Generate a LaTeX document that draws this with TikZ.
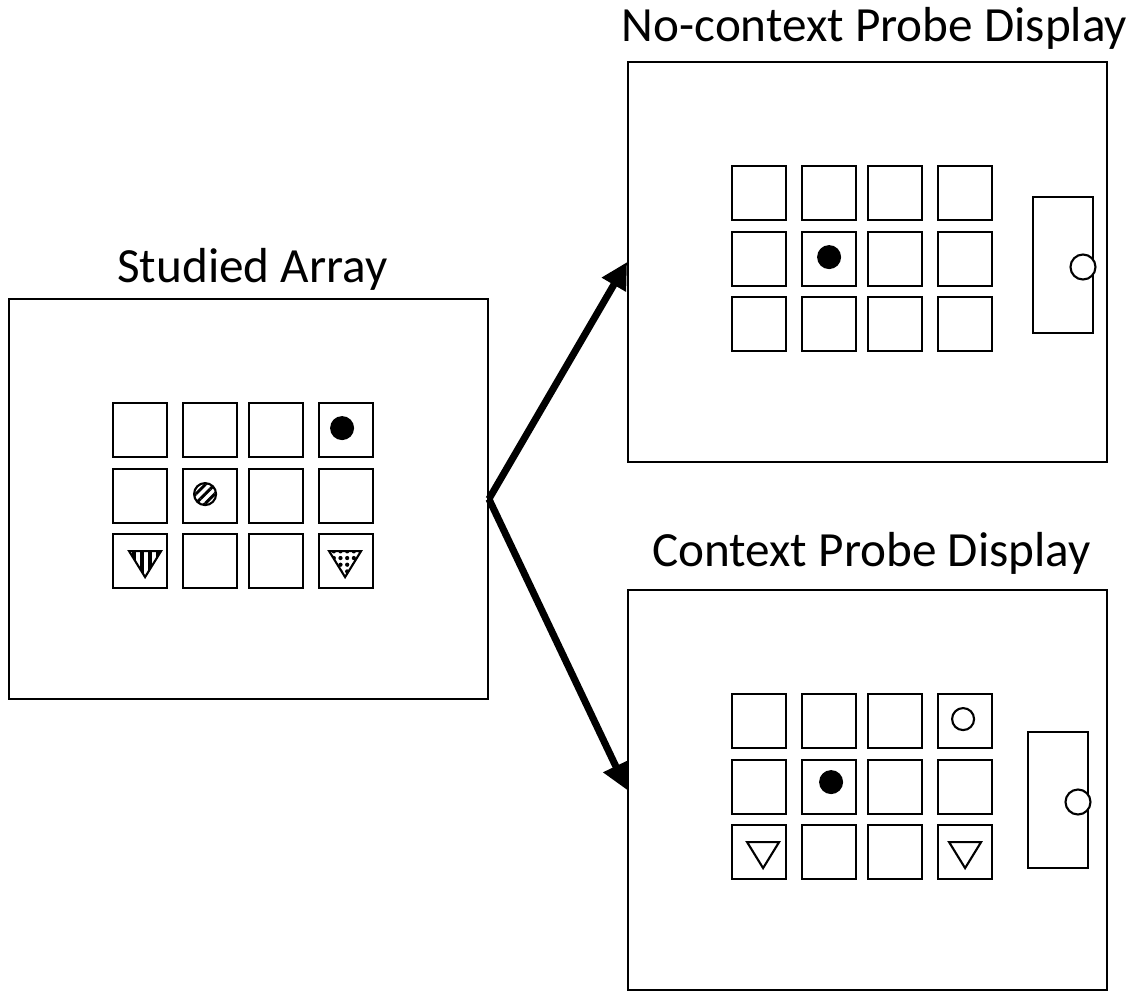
\documentclass[tikz,border=0pt]{standalone}
\usepackage{fontspec}
\setmainfont{Carlito}
\usetikzlibrary{arrows.meta, positioning, calc, patterns.meta}

\tikzset{
  frame/.style={draw, line width=1.1pt, minimum width=9.58cm, minimum height=8cm, inner sep=0pt},
  cell/.style={draw, line width=1.4pt, minimum size=1.08cm, inner sep=0pt},
  answerbox/.style={draw, line width=1.4pt, minimum width=1.2cm, minimum height=2.72cm, inner sep=0pt},
  title/.style={anchor=base, font=\fontsize{28}{32}\selectfont},
  arrow/.style={line width=4pt, -{Triangle[length=15pt,width=15pt]}},
  item/.style={line width=1.2pt}
}

% 4 x 3 grid of cells, relative to the upper left corner of a frame
\newcommand{\cellgrid}[2]{%
  \begin{scope}[shift={(#1.north west)}]
    \foreach \xc [count=\col] in {132,202,268,338}
      \foreach \yc [count=\row] in {132,198,263}
        \node[cell] (#2\row\col) at (\xc,\yc) {};
  \end{scope}}
% inverted triangle in a cell
\newcommand{\downtri}[3]{%
  \draw[item,#3,shift={($(#1)+(#2,0)$)}] (-16,-10) -- (16,-10) -- (0,16) -- cycle;}

\begin{document}
\begin{tikzpicture}[x=0.02cm, y=-0.02cm]
\useasboundingbox (0,0) rectangle (1136,992);

\node[frame] (studied) at (248.5,499) {};
\node[frame] (noctx) at (867.5,262) {};
\node[frame] (ctx) at (867.5,790) {};

\node[title] (studiedlbl) at ($(studied.north)+(4,-16)$) {Studied Array};
\node[title] (noctxlbl) at ($(noctx.north)+(7,-20)$) {No-context Probe Display};
\node[title] (ctxlbl) at ($(ctx.north)+(4,-23)$) {Context Probe Display};

\cellgrid{studied}{s}
\cellgrid{noctx}{n}
\cellgrid{ctx}{c}

% studied array items
\fill ($(s14)+(-4,-2)$) circle[radius=12];
\draw[item, pattern={Lines[angle=45,distance=3.8pt,line width=1.7pt]}] ($(s22)+(-5,-2)$) circle[radius=11];
\downtri{s31}{5}{pattern={Lines[angle=90,distance=4.5pt,line width=2.2pt]}}
\downtri{s34}{-1}{pattern={Dots[distance=3.8pt,radius=1.2pt]}}

% no-context probe
\fill ($(n22)+(0,-2)$) circle[radius=12];
\node[answerbox] (noctxbox) at (1063,265) {};
\draw[item, fill=white] ($(noctxbox)+(20,2)$) circle[radius=12.5];

% context probe
\draw[item] ($(c14)+(-2,-2)$) circle[radius=11];
\fill ($(c22)+(2,-5)$) circle[radius=12];
\downtri{c31}{4}{}
\downtri{c34}{0}{}
\node[answerbox] (ctxbox) at (1058,800) {};
\draw[item, fill=white] ($(ctxbox)+(20,2)$) circle[radius=12.5];

\draw[arrow] (studied.east) -- (noctx.west);
\draw[arrow] (studied.east) -- (ctx.west);
\end{tikzpicture}
\end{document}
